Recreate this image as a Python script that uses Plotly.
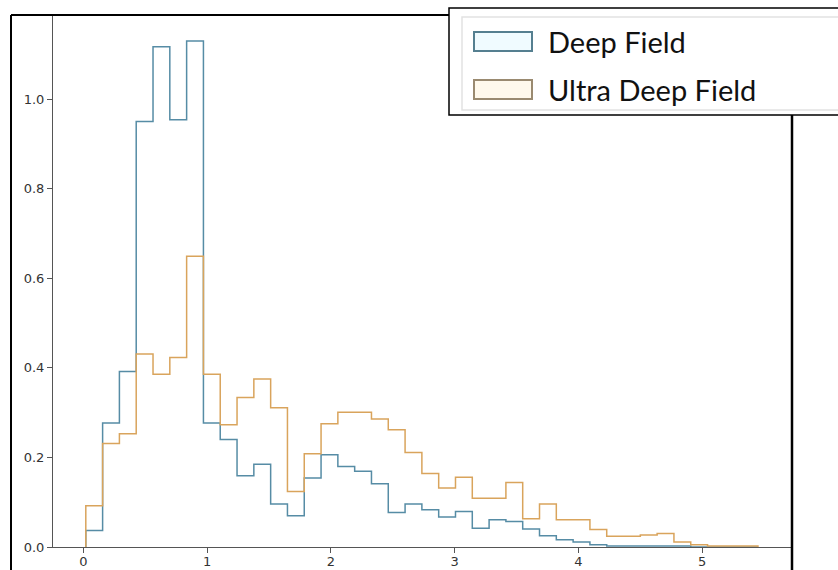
import numpy as np
import plotly.graph_objects as go

# ---- data ----
bin_lo, bin_hi, n_bins = 0.02, 5.45, 40
deep_field = [0.037, 0.277, 0.392, 0.950, 1.117, 0.954, 1.130, 0.277, 0.240, 0.159,
              0.185, 0.096, 0.070, 0.154, 0.206, 0.180, 0.169, 0.141, 0.077, 0.096,
              0.083, 0.067, 0.079, 0.042, 0.061, 0.057, 0.040, 0.025, 0.016, 0.011,
              0.005, 0.002, 0.002, 0.002, 0.002, 0.002, 0.0, 0.0, 0.0, 0.0]
ultra_deep = [0.092, 0.231, 0.253, 0.431, 0.386, 0.423, 0.649, 0.386, 0.273, 0.334,
              0.375, 0.311, 0.124, 0.208, 0.275, 0.301, 0.301, 0.286, 0.262, 0.211,
              0.164, 0.132, 0.156, 0.109, 0.109, 0.144, 0.063, 0.096, 0.061, 0.061,
              0.039, 0.024, 0.024, 0.027, 0.030, 0.011, 0.005, 0.002, 0.002, 0.002]
series_names = ["Deep Field", "Ultra Deep Field"]
x_ticks = [0, 1, 2, 3, 4, 5]
y_ticks = [0.0, 0.2, 0.4, 0.6, 0.8, 1.0]

edges = np.linspace(bin_lo, bin_hi, n_bins + 1)

def step_xy(vals):
    x = [edges[0]] + list(edges[:-1]) + [edges[-1]]
    y = [0.0] + list(vals) + [0.0]
    return x, y

BLUE = "#568ca5"
ORANGE = "#d9a45c"

fig = go.Figure()
for vals, name, col in [(deep_field, series_names[0], BLUE), (ultra_deep, series_names[1], ORANGE)]:
    x, y = step_xy(vals)
    fig.add_trace(go.Scatter(x=x, y=y, mode="lines", line=dict(color=col, width=1.5, shape="hv"),
                             name=name, showlegend=False, hoverinfo="skip"))

W, H = 838, 570
# plot area in page pixel coordinates
L, R, T, B = 53, 792, 15, 547

def px(xp):
    return (xp - L) / (R - L)

def py(yp):
    return (B - yp) / (B - T)

shapes = []
# outer frame lines
shapes.append(dict(type="line", xref="paper", yref="paper", x0=px(11), x1=px(11), y0=py(15), y1=py(580),
                   line=dict(color="black", width=2)))
shapes.append(dict(type="line", xref="paper", yref="paper", x0=px(11), x1=px(449), y0=py(15), y1=py(15),
                   line=dict(color="black", width=2)))
shapes.append(dict(type="line", xref="paper", yref="paper", x0=px(792), x1=px(792), y0=py(115), y1=py(580),
                   line=dict(color="black", width=2.5)))
# legend box
shapes.append(dict(type="rect", xref="paper", yref="paper", x0=px(449), x1=px(860), y0=py(8), y1=py(115),
                   line=dict(color="black", width=1.5), fillcolor="white", layer="above"))
shapes.append(dict(type="rect", xref="paper", yref="paper", x0=px(462), x1=px(860), y0=py(17), y1=py(110),
                   line=dict(color="#e2e2e2", width=1.5), fillcolor="white", layer="above"))
# legend symbols
shapes.append(dict(type="rect", xref="paper", yref="paper", x0=px(474), x1=px(532), y0=py(32), y1=py(51),
                   line=dict(color="#557f90", width=2), fillcolor="#f0fbff", layer="above"))
shapes.append(dict(type="rect", xref="paper", yref="paper", x0=px(474), x1=px(532), y0=py(80), y1=py(99),
                   line=dict(color="#9a8a70", width=2), fillcolor="#fff9ec", layer="above"))

annotations = [
    dict(xref="paper", yref="paper", x=px(546), y=py(42), text=series_names[0], showarrow=False,
         xanchor="left", yanchor="middle", font=dict(family="Lato", size=29, color="#111")),
    dict(xref="paper", yref="paper", x=px(546), y=py(90), text=series_names[1], showarrow=False,
         xanchor="left", yanchor="middle", font=dict(family="Lato", size=29, color="#111")),
]

fig.update_layout(
    width=W, height=H,
    margin=dict(l=L, r=W - R, t=T, b=H - B, pad=0, autoexpand=False),
    paper_bgcolor="white", plot_bgcolor="white",
    shapes=shapes, annotations=annotations,
    xaxis=dict(range=[-0.245, 5.725], tickvals=x_ticks, ticktext=[str(t) for t in x_ticks],
               automargin=False, ticklabelstandoff=-3,
               showgrid=False, zeroline=False, showline=True, linecolor="#555", linewidth=1,
               ticks="outside", ticklen=5, tickcolor="#555",
               tickfont=dict(family="DejaVu Sans", size=13, color="#333")),
    yaxis=dict(range=[0, 1.188], tickvals=y_ticks, ticktext=[f"{t:.1f}" for t in y_ticks],
               automargin=False,
               showgrid=False, zeroline=False, showline=True, linecolor="#555", linewidth=1,
               ticks="outside", ticklen=5, tickcolor="#555",
               tickfont=dict(family="DejaVu Sans", size=13, color="#333")),
)

fig.write_html("out.html", config={"displayModeBar": False, "staticPlot": True},
               post_script="document.body.style.margin='0px';document.body.style.overflow='hidden';")
